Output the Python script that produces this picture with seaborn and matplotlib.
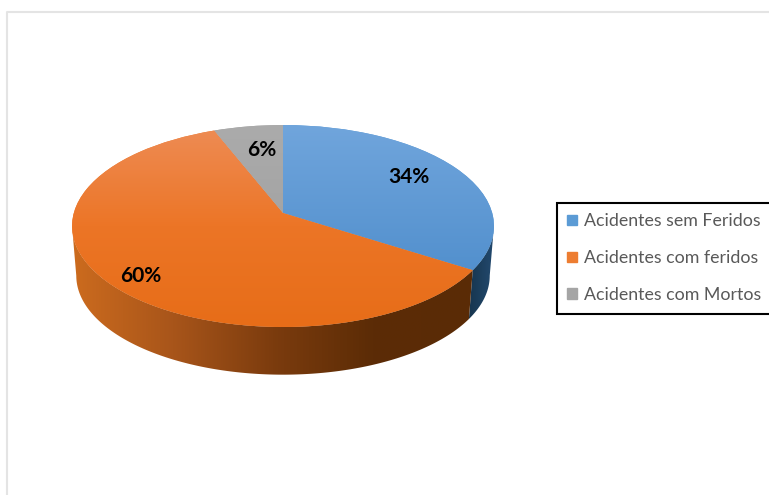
import numpy as np
import seaborn as sns
import matplotlib
matplotlib.use("Agg")
import matplotlib.pyplot as plt
from matplotlib.patches import Patch
from matplotlib.transforms import Transform

categories = ["Acidentes sem Feridos", "Acidentes com feridos", "Acidentes com Mortos"]
values = [34, 60, 6]
legend_colors = ["#5b9bd5", "#ed7d31", "#a5a5a5"]
top_shades = [["#70a5dc", "#4788c8"], ["#ee8c55", "#ec7526", "#e76d18"], ["#ababab", "#9c9c9c"]]
side_shades = [["#17364f", "#234a70"], ["#cc6b1e", "#a8551a", "#7c3c0e", "#5c2c06", "#5a2b06"], ["#666666", "#555555"]]
label_xy = [(409, 177), (141, 276.5), (262, 150.5)]

sns.set_theme(style="white")
plt.rcParams["font.family"] = ["Lato", "DejaVu Sans"]


# perspective projection of the unit disc to pixels, so the apex sits above the ellipse centre
K = 0.1287


def project(u, v, a=209.2, b=99.3, y0=213.0):
    d = 1 + K * v
    return 283 + a * u / d, y0 - b * v / d


class DiscTransform(Transform):
    input_dims = 2
    output_dims = 2
    is_separable = False
    has_inverse = False

    def transform_non_affine(self, values):
        values = np.asarray(values)
        x, y = project(values[:, 0], values[:, 1])
        return np.column_stack([x, y])


fig = plt.figure(figsize=(7.69, 4.95), dpi=100)
ax = fig.add_axes([0, 0, 1, 1])

wedges, _, autotexts = ax.pie(values, startangle=90, counterclock=False, colors=legend_colors,
                              autopct="%.0f%%", wedgeprops={"linewidth": 0})
ax.set_aspect("auto")
disc = DiscTransform() + ax.transData

# top face, vertical gradient clipped to each wedge
for wedge, shades in zip(wedges, top_shades):
    wedge.set_transform(disc)
    ramp = np.array(sns.blend_palette(shades, n_colors=128))[:, None, :3]
    im = ax.imshow(ramp, extent=(60, 500, 327, 125), aspect="auto", interpolation="bilinear", zorder=2)
    im.set_clip_path(wedge)

# side wall, only the part of the rim facing the viewer, horizontal gradient
edge_angles = np.cumsum([0] + values) * 3.6
front_start = np.degrees(np.arccos(-K))
front_end = 360 - front_start
for i, shades in enumerate(side_shades):
    start = max(edge_angles[i], front_start)
    end = min(edge_angles[i + 1], front_end)
    if start >= end:
        continue
    t = np.radians(np.linspace(start, end, 200))
    xt, yt = project(np.sin(t), np.cos(t))
    xb, yb = project(np.sin(t), np.cos(t), a=205.0, b=97.3, y0=263.0)
    wall = ax.fill(np.r_[xt, xb[::-1]], np.r_[yt, yb[::-1]], alpha=0, lw=0, zorder=1)[0]
    ramp = np.array(sns.blend_palette(shades, n_colors=128))[None, :, :3]
    im = ax.imshow(ramp, extent=(min(xt.min(), xb.min()), max(xt.max(), xb.max()), 380, 220),
                   aspect="auto", interpolation="bilinear", zorder=1)
    im.set_clip_path(wall)

for txt, (x, y) in zip(autotexts, label_xy):
    txt.set_position((x, y))
    txt.set_transform(ax.transData)
    txt.set_fontsize(15)
    txt.set_fontweight("bold")
    txt.set_color("black")
    txt.set_zorder(5)

# faint frame of the original screenshot
ax.plot([7, 7, 769], [495, 12, 12], color="#e4e4e4", lw=1.5, zorder=0)

ax.set_xlim(0, 769)
ax.set_ylim(495, 0)
ax.axis("off")

handles = [Patch(color=c, label=n) for c, n in zip(legend_colors, categories)]
leg = ax.legend(handles=handles, loc="upper left", bbox_to_anchor=(556.5, 202.5),
                bbox_transform=ax.transData, borderaxespad=0, fontsize=12.8, labelcolor="#595959",
                handlelength=0.55, handleheight=0.55, handletextpad=0.4, labelspacing=1.18,
                borderpad=0.6, fancybox=False, framealpha=1, edgecolor="black")
leg.get_frame().set_linewidth(1.5)

fig.savefig("out.png", dpi=100)
